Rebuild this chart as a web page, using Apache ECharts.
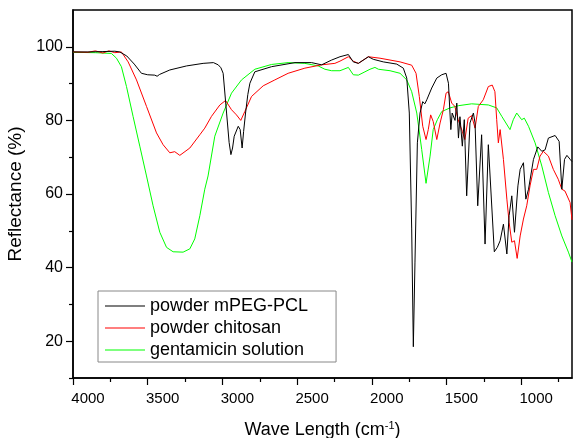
<!DOCTYPE html>
<html>
<head>
    <meta charset="utf-8">
    <title>Reflectance spectra</title>
    <script src="https://cdn.jsdelivr.net/npm/echarts@6.0.0/dist/echarts.min.js"></script>
    <style>
        body { margin: 0; background: #fff; }
        #main { width: 578px; height: 438px; }
    </style>
</head>
<body>
<div id="main"></div>
<script type="text/javascript">
// wave numbers (cm-1) and reflectance (%)
const mpegWave = [4000, 3900, 3800, 3720, 3687, 3640, 3590, 3542, 3500, 3453, 3437, 3420, 3352, 3240, 3129, 3060, 3028, 3010, 2995, 2972, 2955, 2943, 2932, 2921, 2894, 2881, 2868, 2858, 2845, 2830, 2816, 2783, 2671, 2514, 2403, 2336, 2269, 2213, 2157, 2124, 2090, 2023, 1990, 1923, 1833, 1789, 1766, 1749, 1733, 1722, 1711, 1695, 1677, 1659, 1645, 1632, 1599, 1565, 1532, 1503, 1487, 1471, 1462, 1454, 1443, 1431, 1420, 1410, 1394, 1381, 1365, 1343, 1320, 1309, 1291, 1265, 1242, 1220, 1209, 1180, 1160, 1141, 1119, 1096, 1081, 1063, 1045, 1022, 1007, 985, 969, 951, 918, 889, 862, 840, 818, 773, 746, 728, 710, 694, 672, 660];
const mpegRefl = [98.6, 98.6, 98.7, 98.8, 98.6, 97.5, 95.3, 92.8, 92.4, 92.3, 92.0, 92.5, 93.7, 94.8, 95.5, 95.7, 95.1, 94.3, 92.8, 82, 74, 70.7, 72.5, 75.7, 78.4, 77.5, 72.5, 77, 82, 87, 90.1, 93.2, 94.6, 95.7, 95.7, 95.1, 96.4, 97.3, 97.9, 95.9, 95.5, 97.3, 96.6, 95.9, 95.3, 94.2, 91.5, 82, 50.5, 18.5, 41.5, 73.9, 82, 85.1, 84.5, 85.6, 88.8, 91.5, 92.4, 92.8, 90.1, 77.5, 82, 82.5, 80, 84.7, 75.2, 81, 73, 80.2, 59.5, 79.3, 82, 79.3, 56.8, 76.1, 46.4, 73.4, 73, 44.3, 45.5, 47.3, 51.8, 43.7, 54.1, 59.5, 49.6, 62.2, 66.7, 68.5, 58.6, 61.3, 69.4, 72.8, 71.6, 72, 75.2, 75.9, 74.3, 61.3, 69.4, 70.5, 69.4, 68.8];

const chitosanWave = [4000, 3900, 3850, 3800, 3760, 3720, 3676, 3631, 3575, 3508, 3441, 3397, 3352, 3319, 3285, 3218, 3151, 3118, 3073, 3017, 2979, 2939, 2906, 2877, 2850, 2805, 2727, 2649, 2560, 2448, 2336, 2247, 2213, 2157, 2124, 2090, 2023, 1945, 1811, 1733, 1704, 1682, 1659, 1637, 1622, 1606, 1589, 1565, 1543, 1521, 1503, 1488, 1465, 1444, 1422, 1394, 1377, 1355, 1332, 1309, 1287, 1254, 1220, 1194, 1176, 1164, 1153, 1141, 1119, 1096, 1081, 1063, 1045, 1027, 1007, 985, 963, 941, 918, 896, 874, 852, 818, 785, 752, 728, 707, 673, 660];
const chitosanRefl = [98.6, 98.5, 98.9, 98.3, 98.9, 98.4, 98.6, 95.9, 91, 83.8, 76.6, 73.4, 71.2, 71.5, 70.5, 72.5, 76.1, 77.9, 81.1, 84.2, 85.4, 82.9, 81.5, 80, 82.4, 86.5, 89.4, 91, 92.8, 94.2, 95.1, 95.5, 96.1, 97.3, 96.1, 95.5, 97.3, 96.9, 95.9, 95, 92.8, 86.5, 78.4, 74.8, 77.5, 81.5, 79.7, 74.8, 79.3, 82.9, 87.4, 87.8, 84.7, 83.8, 80.2, 77, 74.8, 80.6, 81.3, 77.9, 83.8, 85.6, 89.2, 89.6, 87.8, 80.2, 73.9, 77.5, 69.4, 58.6, 52.3, 46.9, 47.3, 42.5, 48.6, 53.2, 56.8, 62.2, 66.7, 66.7, 70.3, 71.6, 70.3, 66.7, 64, 61.3, 60.8, 57.7, 53];

const gentaWave = [4000, 3850, 3743, 3709, 3676, 3642, 3598, 3553, 3508, 3464, 3419, 3374, 3330, 3263, 3218, 3185, 3151, 3118, 3096, 3051, 2995, 2939, 2872, 2783, 2671, 2560, 2448, 2359, 2314, 2269, 2213, 2157, 2124, 2090, 2046, 2012, 1979, 1956, 1878, 1811, 1766, 1733, 1699, 1666, 1637, 1610, 1589, 1561, 1532, 1476, 1420, 1332, 1220, 1164, 1130, 1075, 1053, 1030, 997, 979, 951, 907, 862, 818, 773, 728, 684, 660];
const gentaRefl = [98.5, 98.4, 98.2, 96.9, 94.6, 89.2, 81.1, 73, 64.9, 56.8, 49.6, 45.5, 44.3, 44.2, 45.1, 47.8, 54.1, 61.3, 64.9, 75.7, 82, 87.4, 91, 93.9, 95.2, 95.7, 95.5, 94.8, 93.9, 93.5, 93.5, 94.4, 92.4, 92.3, 93.2, 93.9, 94.4, 93.9, 93.5, 92.8, 91, 87.8, 82, 72.1, 62.9, 70.3, 77.5, 80.2, 82.4, 83.4, 84, 84.5, 84.2, 83.4, 81.1, 77.5, 80.2, 82, 80.2, 80.6, 78.4, 73.9, 67.6, 60.4, 54.1, 48.6, 44.2, 41.5];

const seriesNames = ['powder mPEG-PCL', 'powder chitosan', 'gentamicin solution'];
const xMajorTicks = [4000, 3500, 3000, 2500, 2000, 1500, 1000];
const xMinorTicks = [3750, 3250, 2750, 2250, 1750, 1250, 750];
const yMajorTicks = [20, 40, 60, 80, 100];
const yMinorTicks = [10, 30, 50, 70, 90];

function zip(xs, ys) { return xs.map((x, i) => [x, ys[i]]); }

var myChart = echarts.init(document.getElementById('main'));
const font = 'Liberation Sans, Arial, sans-serif';
const lineIcon = 'path://M0,0 L40,0 L40,1 L0,1 Z';

var option = {
    animation: false,
    backgroundColor: '#fff',
    textStyle: { fontFamily: font },
    grid: {
        left: 73, right: 6, top: 10, bottom: 60,
        outerBoundsMode: 'none',
        show: true, borderColor: '#000', borderWidth: 1.5
    },
    legend: {
        orient: 'vertical',
        left: 98, top: 291,
        data: seriesNames.map(n => ({ name: n, icon: lineIcon })),
        itemWidth: 40, itemHeight: 1,
        itemGap: 2,
        padding: [5, 28, 2, 7],
        backgroundColor: '#fff',
        borderColor: '#888', borderWidth: 1,
        textStyle: { fontFamily: font, fontSize: 18, color: '#000', lineHeight: 20 }
    },
    xAxis: [{
        type: 'value', inverse: true, min: 660, max: 4000,
        name: '{a|Wave Length (cm}{s|-1}{a|)}',
        nameLocation: 'middle', nameGap: 42,
        nameTextStyle: {
            rich: {
                a: { fontFamily: font, fontSize: 18, color: '#000', verticalAlign: 'bottom' },
                s: { fontFamily: font, fontSize: 11, color: '#000', verticalAlign: 'top', padding: [0, 0, 8, 0] }
            }
        },
        axisLine: { show: true, lineStyle: { color: '#000', width: 1.5 } },
        axisTick: { show: true, length: 7, inside: false, customValues: xMajorTicks, lineStyle: { color: '#000', width: 1.2 } },
        axisLabel: {
            customValues: xMajorTicks, color: '#000', fontSize: 15, fontFamily: font,
            margin: 13, padding: [0, 0, 0, 30],
            formatter: v => String(v)
        },
        splitLine: { show: false }
    }, {
        type: 'value', inverse: true, min: 660, max: 4000, position: 'bottom',
        axisLine: { show: false },
        axisTick: { show: true, length: 4, customValues: xMinorTicks, lineStyle: { color: '#000', width: 1.2 } },
        axisLabel: { show: false },
        splitLine: { show: false }
    }],
    yAxis: [{
        type: 'value', min: 10, max: 110,
        name: 'Reflectance (%)',
        nameLocation: 'middle', nameGap: 44, nameRotate: 90,
        nameTextStyle: { fontFamily: font, fontSize: 19, color: '#000' },
        axisLine: { show: true, lineStyle: { color: '#000', width: 1.5 } },
        axisTick: { show: true, length: 7, customValues: yMajorTicks, lineStyle: { color: '#000', width: 1.2 } },
        axisLabel: { customValues: yMajorTicks, color: '#000', fontSize: 16, fontFamily: font, margin: 10 },
        splitLine: { show: false }
    }, {
        type: 'value', min: 10, max: 110, position: 'left',
        axisLine: { show: false },
        axisTick: { show: true, length: 4, customValues: yMinorTicks, lineStyle: { color: '#000', width: 1.2 } },
        axisLabel: { show: false },
        splitLine: { show: false }
    }],
    series: [
        {
            name: seriesNames[0], type: 'line', symbol: 'none',
            data: zip(mpegWave, mpegRefl),
            lineStyle: { color: '#000', width: 1 }, itemStyle: { color: '#000' }, z: 3
        },
        {
            name: seriesNames[1], type: 'line', symbol: 'none',
            data: zip(chitosanWave, chitosanRefl),
            lineStyle: { color: '#ff0000', width: 1 }, itemStyle: { color: '#ff0000' }, z: 2
        },
        {
            name: seriesNames[2], type: 'line', symbol: 'none',
            data: zip(gentaWave, gentaRefl),
            lineStyle: { color: '#00ff00', width: 1 }, itemStyle: { color: '#00ff00' }, z: 1
        }
    ]
};

myChart.setOption(option);
</script>
</body>
</html>
